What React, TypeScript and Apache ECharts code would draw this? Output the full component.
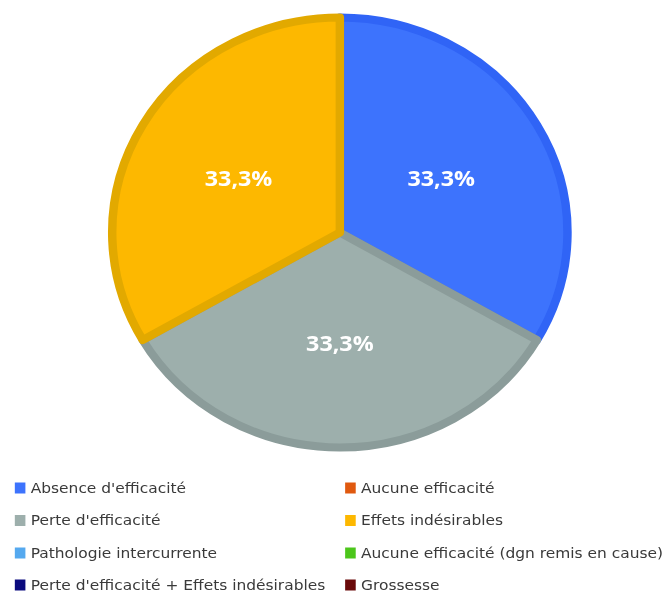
import React, { useEffect, useRef } from "react";
import * as echarts from "echarts";

const categories = [
  "Absence d'efficacité",
  "Aucune efficacité",
  "Perte d'efficacité",
  "Effets indésirables",
  "Pathologie intercurrente",
  "Aucune efficacité (dgn remis en cause)",
  "Perte d'efficacité + Effets indésirables",
  "Grossesse",
];
const values = [1, 0, 1, 1, 0, 0, 0, 0];
const fillColors = ["#3d73fd", "#e0590f", "#9dafac", "#fdb800", "#55a9ef", "#4cc61b", "#0b0b7e", "#6a0a0a"];
const borderColors = ["#3064f6", "#c94d0a", "#8b9c9a", "#e2a900", "#4596dd", "#3fae14", "#070763", "#550707"];

const SX = 1.0587; // the reference is horizontally stretched
const legendColumnsX = [14, 326];
const legendRowsY = [488, 520.5, 553, 585];

export default function App() {
  const ref = useRef<HTMLDivElement>(null);
  useEffect(() => {
    if (!ref.current) return;
    const chart = echarts.init(ref.current, undefined, { renderer: "svg" });
    const total = values.reduce((a, b) => a + b, 0);
    const legendText = { fontFamily: "DejaVu Sans", fontSize: 14.6, color: "#3a3a3a" };
    const legends = categories.map((name, i) => ({
      orient: "horizontal" as const,
      left: legendColumnsX[i % 2],
      top: legendRowsY[Math.floor(i / 2)] - 7.5,
      padding: 0,
      itemWidth: 10,
      itemHeight: 11,
      icon: "rect",
      selectedMode: false,
      textStyle: legendText,
      itemStyle: { borderWidth: 0 },
      data: [name],
    }));
    chart.setOption({
      animation: false,
      legend: legends,
      series: [
        {
          type: "pie",
          center: [321, 232.5],
          radius: 215,
          startAngle: 90,
          clockwise: true,
          label: {
            show: true,
            position: "inside",
            color: "#ffffff",
            fontFamily: "Open Sans",
            fontWeight: "bold",
            fontSize: 22,
            formatter: (p: any) =>
              p.value > 0 ? ((p.value / total) * 100).toFixed(1).replace(".", ",") + "%" : "",
          },
          labelLine: { show: false },
          emphasis: { disabled: true },
          data: categories.map((name, i) => ({
            name,
            value: values[i],
            itemStyle: {
              color: fillColors[i],
              borderColor: borderColors[i],
              borderWidth: values[i] > 0 ? 8 : 0,
            },
            label: { show: values[i] > 0 },
          })),
        },
      ],
    });
    return () => chart.dispose();
  }, []);
  return (
    <div
      ref={ref}
      style={{
        position: "fixed",
        left: 0,
        top: 0,
        width: Math.round(667 / SX),
        height: 593,
        transform: `scaleX(${SX})`,
        transformOrigin: "0 0",
      }}
    />
  );
}
